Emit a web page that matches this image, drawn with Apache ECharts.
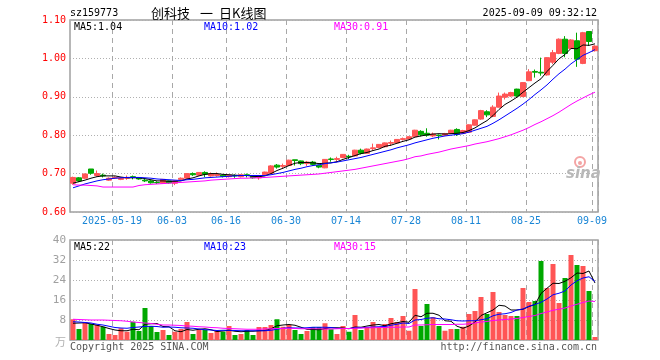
<!DOCTYPE html>
<html><head><meta charset="utf-8">
<script src="https://cdn.jsdelivr.net/npm/echarts@6/dist/echarts.min.js"></script>
<style>html,body{margin:0;padding:0;background:#fff}#c{width:660px;height:360px}</style>
</head><body><div id="c"></div>
<script>
const dates = ['2025-05-08','2025-05-09','2025-05-12','2025-05-13','2025-05-14','2025-05-15','2025-05-16','2025-05-19','2025-05-20','2025-05-21',
'2025-05-22','2025-05-23','2025-05-26','2025-05-27','2025-05-28','2025-05-29','2025-05-30','2025-06-03','2025-06-04','2025-06-05',
'2025-06-06','2025-06-09','2025-06-10','2025-06-11','2025-06-12','2025-06-13','2025-06-16','2025-06-17','2025-06-18','2025-06-19',
'2025-06-20','2025-06-23','2025-06-24','2025-06-25','2025-06-26','2025-06-27','2025-06-30','2025-07-01','2025-07-02','2025-07-03',
'2025-07-04','2025-07-07','2025-07-08','2025-07-09','2025-07-10','2025-07-11','2025-07-14','2025-07-15','2025-07-16','2025-07-17',
'2025-07-18','2025-07-21','2025-07-22','2025-07-23','2025-07-24','2025-07-25','2025-07-28','2025-07-29','2025-07-30','2025-07-31',
'2025-08-01','2025-08-04','2025-08-05','2025-08-06','2025-08-07','2025-08-08','2025-08-11','2025-08-12','2025-08-13','2025-08-14',
'2025-08-15','2025-08-18','2025-08-19','2025-08-20','2025-08-21','2025-08-22','2025-08-25','2025-08-26','2025-08-27','2025-08-28',
'2025-08-29','2025-09-01','2025-09-02','2025-09-03','2025-09-04','2025-09-05','2025-09-08','2025-09-09'];

const openP = [0.675,0.689,0.688,0.712,0.695,0.696,0.683,0.688,0.685,0.688,
0.692,0.689,0.683,0.681,0.677,0.675,0.681,0.675,0.685,0.688,
0.700,0.696,0.703,0.694,0.695,0.696,0.692,0.695,0.692,0.697,
0.693,0.689,0.697,0.701,0.722,0.719,0.721,0.736,0.733,0.726,
0.730,0.722,0.715,0.738,0.737,0.742,0.745,0.746,0.761,0.753,
0.765,0.768,0.770,0.779,0.780,0.789,0.790,0.796,0.810,0.805,
0.798,0.800,0.800,0.805,0.815,0.805,0.808,0.826,0.842,0.861,
0.849,0.873,0.899,0.902,0.920,0.901,0.942,0.966,0.964,0.957,
0.990,1.013,1.050,1.026,1.046,0.987,1.070,1.020];
const closeP = [0.690,0.681,0.699,0.701,0.700,0.694,0.688,0.690,0.689,0.690,
0.690,0.686,0.681,0.676,0.676,0.685,0.676,0.681,0.688,0.700,
0.697,0.703,0.698,0.700,0.698,0.693,0.696,0.694,0.697,0.695,
0.689,0.692,0.704,0.720,0.717,0.721,0.735,0.734,0.726,0.730,
0.724,0.717,0.737,0.737,0.739,0.750,0.744,0.761,0.753,0.764,
0.767,0.776,0.780,0.781,0.789,0.791,0.796,0.813,0.801,0.800,
0.803,0.799,0.804,0.813,0.802,0.812,0.827,0.840,0.864,0.853,
0.873,0.902,0.907,0.911,0.902,0.937,0.965,0.964,0.962,1.002,
1.015,1.050,1.013,1.048,0.998,1.067,1.044,1.032];
const lowP = [0.671,0.678,0.686,0.697,0.692,0.690,0.681,0.686,0.683,0.684,
0.685,0.684,0.678,0.674,0.673,0.673,0.674,0.670,0.683,0.687,
0.694,0.694,0.691,0.692,0.692,0.690,0.690,0.689,0.690,0.690,
0.687,0.684,0.695,0.700,0.713,0.713,0.720,0.721,0.722,0.720,
0.720,0.714,0.714,0.731,0.731,0.740,0.738,0.745,0.750,0.752,
0.760,0.766,0.768,0.772,0.779,0.786,0.789,0.795,0.797,0.796,
0.795,0.789,0.798,0.803,0.798,0.803,0.806,0.825,0.840,0.847,
0.847,0.872,0.893,0.900,0.900,0.899,0.941,0.950,0.955,0.955,
0.985,1.011,1.003,1.024,0.978,0.985,1.033,1.018];
const highP = [0.692,0.691,0.700,0.712,0.708,0.700,0.690,0.693,0.690,0.695,
0.695,0.691,0.686,0.683,0.680,0.686,0.682,0.682,0.690,0.701,
0.703,0.704,0.706,0.703,0.703,0.697,0.697,0.698,0.698,0.700,
0.694,0.696,0.705,0.722,0.725,0.726,0.736,0.736,0.734,0.733,
0.733,0.723,0.738,0.742,0.744,0.751,0.749,0.762,0.765,0.765,
0.778,0.777,0.781,0.786,0.790,0.794,0.797,0.814,0.813,0.818,
0.807,0.802,0.806,0.814,0.818,0.814,0.828,0.841,0.866,0.865,
0.878,0.911,0.911,0.913,0.921,0.938,0.972,0.971,1.002,1.003,
1.022,1.052,1.058,1.050,1.067,1.069,1.071,1.034];

const ma5 = [0.675,0.679,0.683,0.688,0.692,0.694,0.694,0.694,0.691,0.689,
0.689,0.689,0.687,0.684,0.681,0.681,0.680,0.680,0.681,0.686,
0.689,0.694,0.698,0.700,0.700,0.698,0.697,0.696,0.695,0.695,
0.693,0.692,0.694,0.700,0.708,0.714,0.721,0.727,0.729,0.729,
0.728,0.726,0.727,0.728,0.731,0.737,0.742,0.747,0.752,0.755,
0.760,0.764,0.771,0.774,0.779,0.784,0.788,0.795,0.798,0.801,
0.803,0.804,0.803,0.804,0.805,0.807,0.812,0.819,0.829,0.838,
0.851,0.867,0.880,0.889,0.899,0.912,0.924,0.936,0.947,0.966,
0.982,0.999,1.010,1.026,1.025,1.035,1.034,1.038];
const ma10 = [0.663,0.668,0.673,0.677,0.681,0.684,0.686,0.688,0.689,0.690,
0.690,0.690,0.689,0.688,0.686,0.685,0.684,0.683,0.682,0.684,
0.685,0.687,0.689,0.690,0.691,0.692,0.693,0.694,0.695,0.695,
0.695,0.695,0.695,0.697,0.700,0.703,0.707,0.711,0.714,0.718,
0.721,0.723,0.726,0.728,0.730,0.733,0.736,0.739,0.742,0.746,
0.750,0.754,0.758,0.762,0.767,0.771,0.775,0.780,0.784,0.788,
0.792,0.795,0.798,0.800,0.802,0.804,0.808,0.813,0.818,0.823,
0.831,0.840,0.850,0.860,0.870,0.881,0.893,0.906,0.918,0.931,
0.946,0.960,0.972,0.986,0.997,1.008,1.015,1.023];
const ma30 = [0.671,0.670,0.670,0.669,0.668,0.665,0.665,0.665,0.665,0.665,
0.665,0.669,0.671,0.672,0.673,0.674,0.675,0.676,0.677,0.678,
0.679,0.680,0.681,0.683,0.684,0.685,0.686,0.687,0.688,0.688,
0.689,0.689,0.690,0.691,0.692,0.693,0.694,0.695,0.696,0.697,
0.698,0.699,0.701,0.703,0.705,0.707,0.709,0.711,0.714,0.717,
0.720,0.723,0.726,0.729,0.732,0.735,0.739,0.744,0.746,0.750,
0.753,0.756,0.760,0.764,0.767,0.770,0.773,0.777,0.780,0.783,
0.787,0.791,0.796,0.801,0.807,0.813,0.820,0.828,0.835,0.843,
0.851,0.860,0.870,0.880,0.889,0.897,0.905,0.912];

const volume = [8.3,4.4,7.1,6.4,6.0,5.3,2.4,2.0,4.7,3.3,
7.3,3.6,12.8,5.6,3.2,4.0,2.0,3.3,4.4,7.2,
2.4,4.3,4.0,2.8,3.6,3.3,5.6,2.0,2.4,4.0,
2.0,5.2,5.2,6.0,8.3,5.3,6.0,4.0,2.4,3.6,
5.2,5.2,6.7,4.3,2.4,5.6,3.3,10.0,4.0,5.1,
7.2,4.9,6.4,8.8,7.2,9.6,3.7,20.4,5.6,14.4,
9.1,5.6,3.7,4.4,4.4,5.3,10.4,11.6,17.2,10.4,
19.2,11.2,10.0,9.6,9.6,20.8,15.2,15.6,31.6,20.8,
30.4,14.8,24.8,34.0,30.0,29.6,19.6,1.2];
const vma5 = [6.7,6.8,6.9,6.4,5.9,5.3,4.6,4.0,3.7,3.7,
4.3,4.1,6.3,6.5,6.6,5.4,5.3,3.7,3.3,4.2,
3.9,4.3,4.5,4.1,3.4,3.6,3.9,3.5,3.3,3.5,
3.5,3.7,3.8,4.5,5.7,6.0,6.2,5.9,5.1,4.3,
4.2,4.1,4.6,4.9,4.9,4.8,4.5,5.2,5.1,5.6,
6.0,6.2,5.7,6.5,6.9,7.4,7.1,9.9,9.3,10.7,
10.7,9.9,7.7,7.5,5.5,4.7,5.6,7.2,9.8,10.9,
12.0,13.9,13.6,12.0,12.0,12.3,13.4,14.2,18.6,20.7,
22.7,22.6,23.5,24.9,26.8,26.6,27.6,22.8];
const vma10 = [7.3,7.2,7.0,6.8,6.3,6.0,5.5,5.0,4.8,4.7,
5.0,5.2,5.4,5.5,5.4,5.1,5.2,5.1,4.9,4.8,
4.7,4.4,4.1,4.0,3.8,3.9,3.9,3.8,3.7,3.7,
3.7,3.7,3.7,3.9,4.3,4.7,4.9,4.8,4.8,4.9,
5.1,5.1,5.1,5.0,4.7,4.6,4.6,4.9,4.9,5.1,
5.2,5.3,5.4,5.9,6.3,6.8,6.6,8.0,8.2,8.7,
8.9,8.5,8.4,8.1,7.7,7.6,7.7,7.7,8.1,8.5,
9.7,10.3,10.5,11.0,12.0,12.4,13.5,14.2,15.1,16.4,
18.1,18.7,19.6,22.0,23.7,24.8,25.3,23.4];
const vma30 = [8.3,8.2,8.1,8.0,8.0,8.0,7.9,7.8,7.7,7.5,
7.2,7.0,6.8,6.6,6.3,6.0,6.0,5.9,5.8,5.6,
5.5,5.3,5.2,5.0,4.9,4.7,4.6,4.5,4.4,4.3,
4.3,4.3,4.4,4.5,4.6,4.6,4.7,4.6,4.5,4.5,
4.5,4.5,4.4,4.4,4.5,4.6,4.6,4.7,4.8,4.9,
4.9,5.0,5.0,5.1,5.1,5.2,5.2,6.0,6.0,6.1,
6.2,6.2,6.2,6.2,6.3,6.3,6.5,6.8,7.2,7.4,
7.8,8.0,8.2,8.4,8.6,9.0,9.4,9.8,10.6,11.2,
11.9,12.3,12.8,13.6,14.3,15.0,15.6,15.4];

const labelIdx = [7,17,26,36,46,56,66,76,87];
const priceMin = 0.6, priceMax = 1.1, priceStep = 0.1;
const volMin = 0, volMax = 40, volStep = 8;

const UP = '#ff5555', DOWN = '#00a800';
const MONO = '"DejaVu Sans Mono", monospace';
const CJK = '"Noto Sans CJK SC", sans-serif';

const chart = echarts.init(document.getElementById('c'), null, {renderer:'canvas'});
const candle = dates.map((d,i)=>[openP[i], closeP[i], lowP[i], highP[i]]);
const volData = volume.map((v,i)=>({value:v, itemStyle:{color: closeP[i] >= openP[i] ? UP : DOWN}}));

function txt(x, y, text, color, align, font){
  return {type:'text', x:x, y:y, z:100, silent:true,
    style:{text:text, fill:color, font:font || ('10px ' + MONO), textAlign:align||'left', textVerticalAlign:'middle'}};
}
const showLbl = (i)=> labelIdx.indexOf(i) >= 0;
const splitLineX = {show:true, interval:(i)=>showLbl(i), lineStyle:{color:'#a8a8a8', type:[5,4], width:1}};

chart.setOption({
  animation:false,
  backgroundColor:'#fff',
  grid:[
    {left:70, top:20, width:528, height:192, show:true, borderColor:'#a0a0a0', borderWidth:1.5, backgroundColor:'transparent'},
    {left:70, top:240, width:528, height:100, show:true, borderColor:'#a0a0a0', borderWidth:1.5, backgroundColor:'transparent'}
  ],
  xAxis:[
    {gridIndex:0, type:'category', data:dates, boundaryGap:true,
     axisLine:{show:false}, axisTick:{show:false},
     axisLabel:{interval:(i)=>showLbl(i), margin:4, color:'#1a86d6', fontFamily:'DejaVu Sans Mono', fontSize:10,
       padding:[0,6,0,0],
       formatter:(v, i)=> i===labelIdx[0] ? v : v.slice(5)},
     splitLine:splitLineX},
    {gridIndex:1, type:'category', data:dates, boundaryGap:true,
     axisLine:{show:false}, axisTick:{show:false}, axisLabel:{show:false},
     splitLine:splitLineX}
  ],
  yAxis:[
    {gridIndex:0, type:'value', min:priceMin, max:priceMax, interval:priceStep,
     axisLine:{show:false}, axisTick:{show:false},
     axisLabel:{margin:4, color:'#ff0000', fontFamily:'DejaVu Sans Mono', fontSize:10, formatter:(v)=>v.toFixed(2)},
     splitLine:{show:true, lineStyle:{color:'#b0b0b0', type:[1,2], width:1}}},
    {gridIndex:1, type:'value', min:volMin, max:volMax, interval:volStep,
     axisLine:{show:false}, axisTick:{show:false},
     axisLabel:{margin:4, color:'#a0a0a0', fontFamily:'DejaVu Sans Mono', fontSize:11, formatter:(v)=> v===0 ? '' : String(v)},
     splitLine:{show:true, lineStyle:{color:'#b0b0b0', type:[1,2], width:1}}}
  ],
  series:[
    {type:'candlestick', xAxisIndex:0, yAxisIndex:0, data:candle, barWidth:5,
     itemStyle:{color:UP, color0:DOWN, borderColor:UP, borderColor0:DOWN, borderWidth:1}},
    {type:'line', xAxisIndex:0, yAxisIndex:0, data:ma5, symbol:'none', lineStyle:{color:'#000', width:1}},
    {type:'line', xAxisIndex:0, yAxisIndex:0, data:ma10, symbol:'none', lineStyle:{color:'#0000ff', width:1}},
    {type:'line', xAxisIndex:0, yAxisIndex:0, data:ma30, symbol:'none', lineStyle:{color:'#ff00ff', width:1}},
    {type:'bar', xAxisIndex:1, yAxisIndex:1, data:volData, barWidth:5},
    {type:'line', xAxisIndex:1, yAxisIndex:1, data:vma5, symbol:'none', lineStyle:{color:'#000', width:1}},
    {type:'line', xAxisIndex:1, yAxisIndex:1, data:vma10, symbol:'none', lineStyle:{color:'#0000ff', width:1}},
    {type:'line', xAxisIndex:1, yAxisIndex:1, data:vma30, symbol:'none', lineStyle:{color:'#ff00ff', width:1}}
  ],
  graphic:[
    txt(70, 13, 'sz159773', '#000', 'left', '10px ' + MONO),
    txt(151, 13, '创科技', '#000', 'left', '13px ' + CJK),
    txt(200, 13, '一', '#000', 'left', '13px ' + CJK),
    txt(219, 13, '日K线图', '#000', 'left', '13px ' + CJK),
    txt(597, 13, '2025-09-09 09:32:12', '#000', 'right', '10px ' + MONO),
    txt(74, 27, 'MA5:1.04', '#000', 'left'),
    txt(204, 27, 'MA10:1.02', '#0000ff', 'left'),
    txt(334, 27, 'MA30:0.91', '#ff00ff', 'left'),
    txt(74, 247, 'MA5:22', '#000', 'left'),
    txt(204, 247, 'MA10:23', '#0000ff', 'left'),
    txt(334, 247, 'MA30:15', '#ff00ff', 'left'),
    txt(66, 342, '万', '#b0b0b0', 'right', '11px ' + CJK),
    txt(70, 347, 'Copyright 2025 SINA.COM', '#555', 'left'),
    txt(597, 347, 'http://finance.sina.com.cn', '#555', 'right'),
    {type:'circle', shape:{cx:580, cy:162, r:5}, style:{fill:'none', stroke:'#f4a4a4', lineWidth:2}, z:90, silent:true},
    {type:'circle', shape:{cx:580, cy:163, r:2}, style:{fill:'#f4a4a4'}, z:90, silent:true},
    txt(566, 174, 'sina', '#b8b8b8', 'left', 'italic bold 15px "DejaVu Sans", sans-serif')
  ]
});
</script></body></html>
